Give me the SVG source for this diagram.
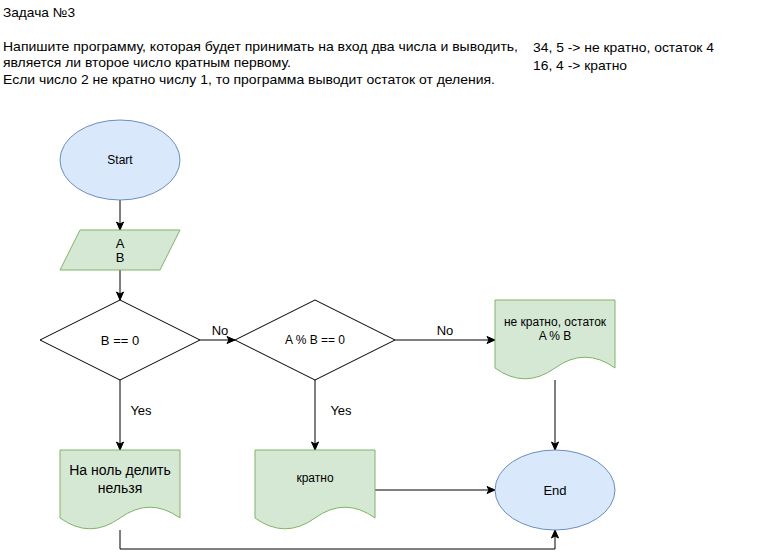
<svg xmlns="http://www.w3.org/2000/svg" width="781" height="559" viewBox="0 0 781 559">
<defs>
<style>
text{font-family:"Liberation Sans",Arial,Helvetica,sans-serif;fill:#000}
.hdr{font-size:13px}
.n11{font-size:12px;text-anchor:middle}
.n12{font-size:13px;text-anchor:middle}
.n13{font-size:14px;text-anchor:middle}
.lbl{font-size:13px;text-anchor:middle}
.term{fill:#dae8fc;stroke:#6c8ebf;stroke-width:1}
.io{fill:#d5e8d4;stroke:#82b366;stroke-width:1}
.dec{fill:#fff;stroke:#000;stroke-width:1}
.edge{fill:none;stroke:#000;stroke-width:1;marker-end:url(#arr)}
</style>
<marker id="arr" markerUnits="userSpaceOnUse" markerWidth="10" markerHeight="10" viewBox="0 0 10 10" refX="9" refY="5" orient="auto">
<path d="M1,1.5 L9,5 L1,8.5 L3,5 Z" fill="#000" stroke="#000" stroke-width="1"/>
</marker>
</defs>
<rect width="781" height="559" fill="#fff"/>
<g id="header">
<text class="hdr" x="3" y="17" textLength="72" lengthAdjust="spacingAndGlyphs">Задача №3</text>
<text class="hdr" x="3" y="51" textLength="515" lengthAdjust="spacingAndGlyphs">Напишите программу, которая будет принимать на вход два числа и выводить,</text>
<text class="hdr" x="3" y="67" textLength="288" lengthAdjust="spacingAndGlyphs">является ли второе число кратным первому.</text>
<text class="hdr" x="3" y="84" textLength="492" lengthAdjust="spacingAndGlyphs">Если число 2 не кратно числу 1, то программа выводит остаток от деления.</text>
<text class="hdr" x="533" y="52" textLength="181" lengthAdjust="spacingAndGlyphs">34, 5 -&gt; не кратно, остаток 4</text>
<text class="hdr" x="533" y="70" textLength="94" lengthAdjust="spacingAndGlyphs">16, 4 -&gt; кратно</text>
</g>
<g id="connectors">
<path class="edge" d="M120,200 L120,230"/>
<path class="edge" d="M120,270 L120,300"/>
<path class="edge" d="M200,340 L235,340"/>
<path class="edge" d="M395,340 L495,340"/>
<path class="edge" d="M120,380 L120,450"/>
<path class="edge" d="M315,380 L315,450"/>
<path class="edge" d="M555,380 L555,450"/>
<path class="edge" d="M375,490 L495,490"/>
<path class="edge" d="M120,530 L120,549 L555,549 L555,530"/>
<text class="lbl" x="220" y="335">No</text>
<text class="lbl" x="445" y="335">No</text>
<text class="lbl" x="141" y="415">Yes</text>
<text class="lbl" x="341" y="415">Yes</text>
</g>
<g id="start">
<ellipse class="term" cx="120" cy="160" rx="60" ry="40"/>
<text class="n11" x="120" y="164">Start</text>
</g>
<g id="input">
<path class="io" d="M80,230 L180,230 L160,270 L60,270 Z"/>
<text class="n12" x="120" y="248">A</text>
<text class="n12" x="120" y="262">B</text>
</g>
<g id="dec1">
<path class="dec" d="M120,300 L200,340 L120,380 L40,340 Z"/>
<text class="n12" x="120" y="345">B == 0</text>
</g>
<g id="dec2">
<path class="dec" d="M315,300 L395,340 L315,380 L235,340 Z"/>
<text class="n11" x="315" y="344">A % B == 0</text>
</g>
<g id="doc-rem">
<path class="io" d="M495,300 L615,300 L615,368 Q585,346.4 555,368 Q525,389.6 495,368 Z"/>
<text class="n11" x="555" y="326">не кратно, остаток</text>
<text class="n11" x="555" y="340">A % B</text>
</g>
<g id="doc-zero">
<path class="io" d="M60,450 L180,450 L180,518 Q150,496.4 120,518 Q90,539.6 60,518 Z"/>
<text class="n13" x="120" y="475">На ноль делить</text>
<text class="n13" x="120" y="493">нельзя</text>
</g>
<g id="doc-mult">
<path class="io" d="M255,450 L375,450 L375,518 Q345,496.4 315,518 Q285,539.6 255,518 Z"/>
<text class="n11" x="315" y="482">кратно</text>
</g>
<g id="end">
<ellipse class="term" cx="555" cy="490" rx="60" ry="40"/>
<text class="n12" x="555" y="495">End</text>
</g>
</svg>
